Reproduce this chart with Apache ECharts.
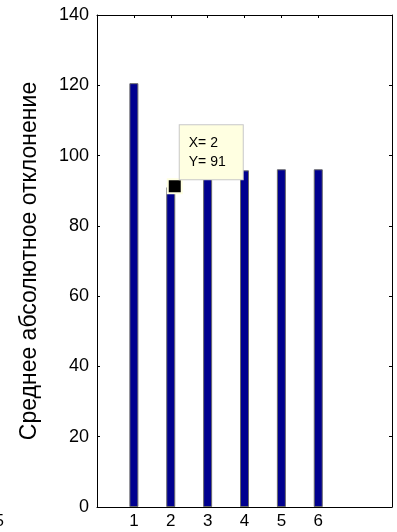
<!DOCTYPE html>
<html>
<head>
<meta charset="utf-8">
<script src="https://cdn.jsdelivr.net/npm/echarts@6/dist/echarts.min.js"></script>
<style>
  html, body { margin: 0; padding: 0; background: #fff; }
  #chart { width: 397px; height: 532px; }
</style>
</head>
<body>
<div id="chart"></div>
<script>
// Mean absolute deviation for each of six cases
const categories = [1, 2, 3, 4, 5, 6];
const deviation = [120.6, 91, 95.5, 95.8, 96.1, 96.1];
const yTicks = [0, 20, 40, 60, 80, 100, 120, 140];
const yTitle = 'Среднее абсолютное отклонение';
// Data cursor pinned on the second bar
const cursorPoint = [2, 91];

const FONT = 'Liberation Sans, Arial, sans-serif';
const chart = echarts.init(document.getElementById('chart'), null, { renderer: 'canvas' });

const barData = categories.map((c, i) => [c, deviation[i]]);

const frameLine = { show: true, onZero: false, lineStyle: { color: '#000', width: 1 } };
const tickStyle = (values) => ({ show: true, inside: true, length: 3, customValues: values, lineStyle: { color: '#000' } });

chart.setOption({
  animation: false,
  backgroundColor: '#fff',
  grid: { left: 97, right: 5, top: 15, bottom: 25 },
  xAxis: [
    {
      type: 'value', min: 0, max: 8, interval: 1, position: 'bottom',
      axisLine: frameLine, splitLine: { show: false },
      axisTick: tickStyle(categories),
      axisLabel: { show: true, customValues: categories, color: '#000', fontFamily: FONT, fontSize: 17, margin: 6 }
    },
    {
      type: 'value', min: 0, max: 8, interval: 1, position: 'top',
      axisLine: frameLine, splitLine: { show: false },
      axisTick: tickStyle(categories),
      axisLabel: { show: false }
    }
  ],
  yAxis: [
    {
      type: 'value', min: 0, max: 140, interval: 20, position: 'left',
      name: yTitle, nameLocation: 'middle', nameGap: 56, nameRotate: 90,
      nameTextStyle: { color: '#000', fontFamily: FONT, fontSize: 23 },
      axisLine: frameLine, splitLine: { show: false },
      axisTick: tickStyle(yTicks),
      axisLabel: { show: true, customValues: yTicks, color: '#000', fontFamily: FONT, fontSize: 18, margin: 8 }
    },
    {
      type: 'value', min: 0, max: 140, interval: 20, position: 'right',
      axisLine: frameLine, splitLine: { show: false },
      axisTick: tickStyle(yTicks),
      axisLabel: { show: false }
    }
  ],
  series: [
    {
      type: 'bar',
      xAxisIndex: 0, yAxisIndex: 0,
      data: barData,
      barWidth: 9,
      itemStyle: { color: '#00008F', borderColor: '#6a6a6a', borderWidth: 1 }
    },
    {
      type: 'scatter',
      xAxisIndex: 0, yAxisIndex: 0,
      data: [cursorPoint],
      symbol: 'rect',
      symbolSize: 14,
      symbolOffset: [4, -1],
      z: 5,
      itemStyle: { color: '#000', opacity: 1, borderColor: '#FFFFE1', borderWidth: 2 },
      label: {
        show: true,
        position: [13, -53],
        align: 'left',
        verticalAlign: 'top',
        formatter: p => 'X= ' + p.value[0] + '\nY= ' + p.value[1],
        backgroundColor: '#FFFFE1',
        borderColor: '#c8c8c8',
        borderWidth: 1,
        padding: [8, 9, 8, 9],
        width: 45,
        lineHeight: 19,
        color: '#000',
        fontFamily: FONT,
        fontSize: 14
      }
    }
  ],
  graphic: [
    {
      type: 'text', left: -5, top: 514,
      style: { text: '5', fill: '#000', font: '16px ' + FONT }
    }
  ]
});
</script>
</body>
</html>
